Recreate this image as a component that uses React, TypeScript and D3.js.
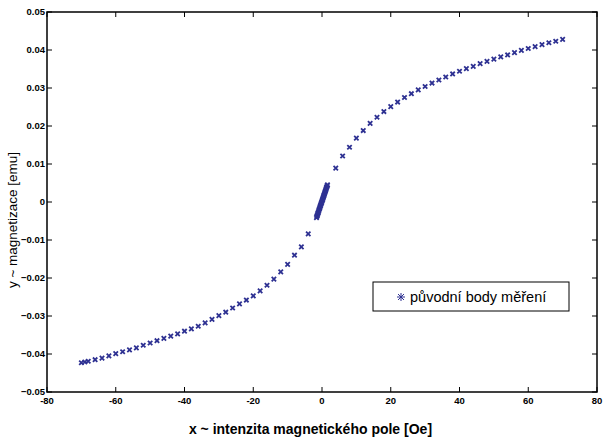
import React from "react";
import * as d3 from "d3";

// Measured points: field H [Oe] and magnetization M [emu]
const leftH = [-70, -69, -68, -66, -64, -62, -60, -58, -56, -54, -52, -50, -48, -46, -44, -42, -40, -38, -36, -34, -32, -30, -28, -26, -24, -22, -20, -18, -16, -14, -12, -10, -8, -6, -4];
const leftM = [-0.0423, -0.0421, -0.0419, -0.0415, -0.0411, -0.0405, -0.0399, -0.0394, -0.0389, -0.0384, -0.0377, -0.0371, -0.0365, -0.0359, -0.0353, -0.0347, -0.034, -0.0334, -0.0327, -0.0318, -0.0309, -0.0299, -0.029, -0.0279, -0.0268, -0.0258, -0.0247, -0.0234, -0.0219, -0.0203, -0.0184, -0.0164, -0.014, -0.0118, -0.0084];
const centerH = [-1.6, -1.5, -1.4, -1.3, -1.2, -1.1, -1.0, -0.9, -0.8, -0.7, -0.6, -0.5, -0.4, -0.3, -0.2, -0.1, 0, 0.1, 0.2, 0.3, 0.4, 0.5, 0.6, 0.7, 0.8, 0.9, 1.0, 1.1, 1.2, 1.3, 1.4, 1.5, 1.6];
const centerM = [-0.0041, -0.0038, -0.0036, -0.0033, -0.003, -0.0028, -0.0025, -0.0022, -0.0019, -0.0017, -0.0014, -0.0011, -0.0009, -0.0006, -0.0003, -0.0001, 0.0002, 0.0005, 0.0007, 0.001, 0.0013, 0.0016, 0.0018, 0.0021, 0.0024, 0.0027, 0.0029, 0.0032, 0.0035, 0.0038, 0.004, 0.0043, 0.0045];
const rightH = [4, 6, 8, 10, 12, 14, 16, 18, 20, 22, 24, 26, 28, 30, 32, 34, 36, 38, 40, 42, 44, 46, 48, 50, 52, 54, 56, 58, 60, 62, 64, 66, 68, 70];
const rightM = [0.0089, 0.0121, 0.0144, 0.0168, 0.0188, 0.0207, 0.0223, 0.0238, 0.0251, 0.0263, 0.0275, 0.0285, 0.0295, 0.0304, 0.0313, 0.0321, 0.0329, 0.0337, 0.0344, 0.0351, 0.0357, 0.0364, 0.037, 0.0376, 0.0382, 0.0387, 0.0393, 0.0399, 0.0404, 0.0409, 0.0414, 0.0419, 0.0423, 0.0428];

const xTicks = [-80, -60, -40, -20, 0, 20, 40, 60, 80];
const yTicks = [-0.05, -0.04, -0.03, -0.02, -0.01, 0, 0.01, 0.02, 0.03, 0.04, 0.05];
const xLabel = "x ~ intenzita magnetického pole [Oe]";
const yLabel = "y ~ magnetizace [emu]";
const legendLabel = "původní body měření";

const W = 604;
const H = 437;
const plot = { left: 47, right: 597, top: 12, bottom: 392 };
const blue = "#2e3192";
const font = "'Liberation Sans', Arial, Helvetica, sans-serif";

export default function App() {
  const x = d3.scaleLinear().domain([-80, 80]).range([plot.left, plot.right]);
  const y = d3.scaleLinear().domain([-0.05, 0.05]).range([plot.bottom, plot.top]);

  const pts: [number, number][] = [];
  leftH.forEach((h, i) => pts.push([h, leftM[i]]));
  centerH.forEach((h, i) => pts.push([h, centerM[i]]));
  rightH.forEach((h, i) => pts.push([h, rightM[i]]));

  const fmtY = (v: number) => (v === 0 ? "0" : d3.format(".2f")(v));
  const tl = 5;
  const cross = "M-2.2,-2.2L2.2,2.2M-2.2,2.2L2.2,-2.2";
  const ast = "M-4,0L4,0M0,-4L0,4M-3,-3L3,3M-3,3L3,-3";

  return (
    <svg width={W} height={H} style={{ position: "absolute", left: 0, top: 0, background: "#fff" }} fontFamily={font}>
      <rect x={0} y={0} width={W} height={H} fill="#fff" />
      <g>
        {pts.map(([h, m], i) => (
          <path key={i} d={cross} transform={`translate(${x(h)},${y(m)})`} stroke={blue} strokeWidth={1.8} fill="none" />
        ))}
      </g>
      <rect x={plot.left} y={plot.top} width={plot.right - plot.left} height={plot.bottom - plot.top} fill="none" stroke="#000" strokeWidth={1.5} />
      {xTicks.map((t) => (
        <g key={"x" + t}>
          <line x1={x(t)} x2={x(t)} y1={plot.bottom} y2={plot.bottom - tl} stroke="#000" strokeWidth={1} />
          <line x1={x(t)} x2={x(t)} y1={plot.top} y2={plot.top + tl} stroke="#000" strokeWidth={1} />
          <text x={x(t)} y={403.5} textAnchor="middle" fontSize={9.5} fontWeight="bold" fill="#000">{t}</text>
        </g>
      ))}
      {yTicks.map((t) => (
        <g key={"y" + t}>
          <line x1={plot.left} x2={plot.left + tl} y1={y(t)} y2={y(t)} stroke="#000" strokeWidth={1} />
          <line x1={plot.right} x2={plot.right - tl} y1={y(t)} y2={y(t)} stroke="#000" strokeWidth={1} />
          <text x={45} y={y(t)} dy="0.35em" textAnchor="end" fontSize={9.5} fontWeight="bold" fill="#000">{fmtY(t)}</text>
        </g>
      ))}
      <text x={310.5} y={434} textAnchor="middle" fontSize={14} fontWeight="bold" fill="#000">{xLabel}</text>
      <text transform="translate(17,220) rotate(-90)" textAnchor="middle" fontSize={13.5} fill="#000">{yLabel}</text>
      <rect x={373} y={282} width={196} height={29} fill="#fff" stroke="#000" strokeWidth={1} />
      <path d={ast} transform="translate(401,297)" stroke={blue} strokeWidth={1} fill="none" />
      <text x={410} y={302} fontSize={14.5} fill="#000">{legendLabel}</text>
    </svg>
  );
}
